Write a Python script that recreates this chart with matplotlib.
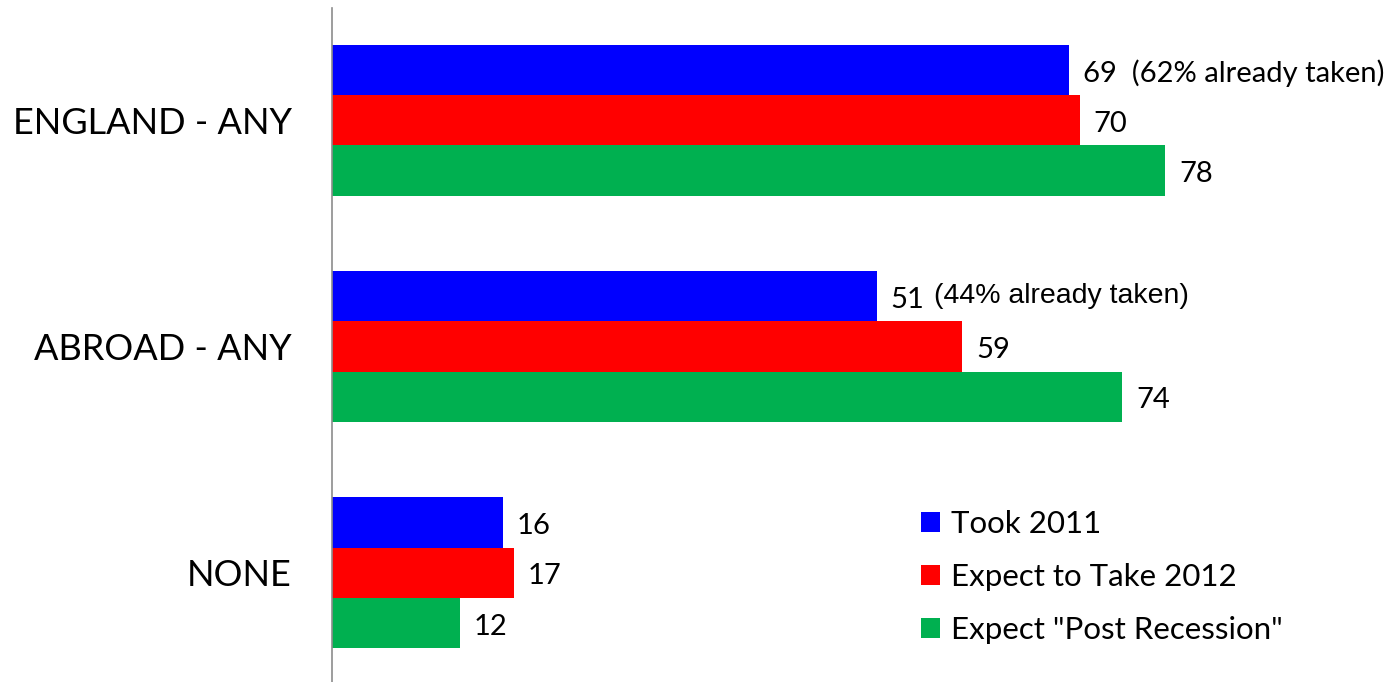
import matplotlib.pyplot as plt
from matplotlib.patches import Patch

# data
categories = ['ENGLAND - ANY', 'ABROAD - ANY', 'NONE']
series = ['Took 2011', 'Expect to Take 2012', 'Expect "Post Recession"']
took_2011 = [69, 51, 16]
expect_2012 = [70, 59, 17]
post_recession = [78, 74, 12]
colors = ['#0000FF', '#FF0000', '#00B050']

CAL = ['Lato', 'DejaVu Sans']
ARIAL = ['Liberation Sans', 'DejaVu Sans']

fig = plt.figure(figsize=(13.95, 6.82), dpi=100)
ax = fig.add_axes([332 / 1395, 0.0, (1395 - 332) / 1395, (682 - 8) / 682])

group_gap = 4.5
values = [took_2011, expect_2012, post_recession]
for s, (vals, col) in enumerate(zip(values, colors)):
    for g, v in enumerate(vals):
        y = g * group_gap + (s - 1)
        ax.barh(y, v, height=1.0, color=col, edgecolor='none')
        label = str(v)
        if g == 0 and s == 0:
            label = '69  (62% already taken)'
        ax.text(v + 1.3, y + 0.07, label, va='center', ha='left',
                fontsize=21, family=CAL, color='black')

# separate note next to the abroad bar
ax.text(56.4, group_gap - 1.0, '(44% already taken)', va='center', ha='left',
        fontsize=20.5, family=ARIAL, color='black')

ax.set_xlim(0, (1395 - 332) / 10.68)
ax.set_ylim(11.17, -2.227)
ax.set_yticks([g * group_gap for g in range(len(categories))])
ax.set_yticklabels(categories, family=CAL, fontsize=26)
ax.tick_params(axis='y', length=0, pad=29)
ax.set_xticks([])
for side in ['top', 'right', 'bottom']:
    ax.spines[side].set_visible(False)
ax.spines['left'].set_color('#8c8c8c')
ax.spines['left'].set_linewidth(1.2)

handles = [Patch(facecolor=c, edgecolor='none') for c in colors]
leg = ax.legend(handles, series, loc='upper left',
                bbox_to_anchor=((921 - 332) / 1063, (682 - 510) / 674),
                frameon=False, prop={'family': CAL, 'size': 22.5},
                borderpad=0, borderaxespad=0,
                handlelength=0.6, handleheight=0.6, handletextpad=0.35,
                labelspacing=0.8)

fig.savefig('out.png', dpi=100)
